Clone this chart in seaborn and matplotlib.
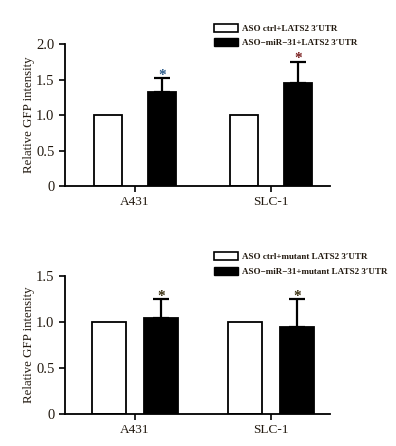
import numpy as np
import pandas as pd
import matplotlib
matplotlib.use("Agg")
import matplotlib.pyplot as plt
import seaborn as sns
from matplotlib.patches import Patch

cells = ["A431", "SLC-1"]

top_groups = ["ASO ctrl+LATS2 3\u2032UTR", "ASO\u2212miR\u221231+LATS2 3\u2032UTR"]
top_ctrl = [1.0, 1.0]
top_mir = [1.32, 1.45]
top_err = [0.20, 0.30]
top_star_colors = ["#2a5a8a", "#7a1f1f"]

bot_groups = ["ASO ctrl+mutant LATS2 3\u2032UTR", "ASO\u2212miR\u221231+mutant LATS2 3\u2032UTR"]
bot_ctrl = [1.0, 1.0]
bot_mir = [1.05, 0.95]
bot_err = [0.20, 0.30]
bot_star_colors = ["#3a3010", "#3a3010"]

txt = "#231a10"

sns.set_style("white")
plt.rcParams["font.family"] = ["Liberation Serif", "DejaVu Serif"]

fig = plt.figure(figsize=(3.96, 4.46), dpi=100)
ax1 = fig.add_axes([0.164, 0.583, 0.669, 0.318])
ax2 = fig.add_axes([0.164, 0.0717, 0.669, 0.309])


def panel(ax, groups, ctrl, mir, err, star_colors, ymax, yticks, ylabels, width, gap, leg_y):
    df = pd.DataFrame({
        "cell": cells * 2,
        "group": [groups[0]] * 2 + [groups[1]] * 2,
        "value": ctrl + mir,
    })
    sns.barplot(data=df, x="cell", y="value", hue="group", hue_order=groups,
                palette=["white", "black"], edgecolor="black", linewidth=1.3,
                width=width, gap=gap, errorbar=None, legend=False, ax=ax)
    # black bars are the second half of the patches
    bars = ax.patches[len(cells):2 * len(cells)]
    for b, v, e, c in zip(bars, mir, err, star_colors):
        xc = b.get_x() + b.get_width() / 2
        ax.errorbar([xc], [v], yerr=[[0], [e]], fmt="none", ecolor="black",
                    elinewidth=1.6, capsize=5.5, capthick=1.6)
        ax.text(xc, v + e - 0.025 * ymax, "*", ha="center", va="bottom",
                color=c, fontsize=11, fontweight="bold")
    ax.set_ylim(0, ymax)
    ax.set_xlim(-0.515, 1.434)
    ax.set_yticks(yticks)
    ax.set_yticklabels(ylabels)
    ax.set_xlabel("")
    ax.set_ylabel("Relative GFP intensity", fontsize=9.3, color=txt, labelpad=1)
    ax.tick_params(axis="both", direction="out", length=4, width=1.2,
                   colors="black", labelcolor=txt)
    ax.tick_params(axis="y", labelsize=10.5)
    ax.tick_params(axis="x", labelsize=9.5)
    ax.tick_params(left=True, bottom=True)
    for s in ["top", "right"]:
        ax.spines[s].set_visible(False)
    for s in ["left", "bottom"]:
        ax.spines[s].set_linewidth(1.3)
        ax.spines[s].set_color("black")
    handles = [Patch(facecolor="white", edgecolor="black", linewidth=1.2),
               Patch(facecolor="black", edgecolor="black")]
    leg = fig.legend(handles, groups, loc="upper left",
                     bbox_to_anchor=(0.532, leg_y), frameon=False,
                     prop={"size": 6.5, "weight": "bold", "family": ["Liberation Serif", "DejaVu Serif"]},
                     handlelength=2.6, handleheight=1.0, handletextpad=0.5,
                     labelspacing=0.6, borderaxespad=0)
    for t in leg.get_texts():
        t.set_color(txt)


panel(ax1, top_groups, top_ctrl, top_mir, top_err, top_star_colors,
      2.0, [0, 0.5, 1.0, 1.5, 2.0], ["0", "0.5", "1.0", "1.5", "2.0"], 0.8, 0.48, 0.955)
panel(ax2, bot_groups, bot_ctrl, bot_mir, bot_err, bot_star_colors,
      1.5, [0, 0.5, 1.0, 1.5], ["0", "0.5", "1.0", "1.5"], 0.76, 0.34, 0.443)

fig.savefig("out.png", dpi=100)
